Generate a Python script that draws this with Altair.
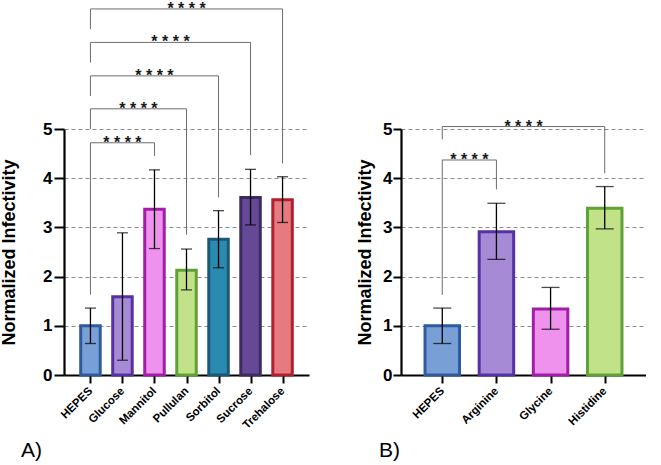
import json
import altair as alt
import pandas as pd

# ---------------- data ----------------
cats_a = ["HEPES", "Glucose", "Mannitol", "Pullulan", "Sorbitol", "Sucrose", "Trehalose"]
mean_a = [1.00, 1.59, 3.37, 2.13, 2.76, 3.61, 3.56]
low_a = [0.64, 0.30, 2.57, 1.73, 2.18, 3.05, 3.10]
high_a = [1.36, 2.89, 4.17, 2.56, 3.34, 4.18, 4.03]
fill_a = ["#789fd6", "#a68ad6", "#ee92ee", "#c2e28a", "#2a8bb0", "#654896", "#e57a80"]
stroke_a = ["#2d5b9e", "#5631a2", "#a21da8", "#5fa234", "#1b5878", "#3c2b62", "#b0202e"]

# brackets: target index, bracket level, left-leg bottom, right-leg bottom
br_a_target = [2, 3, 4, 5, 6]
br_a_level = [4.72, 5.41, 6.08, 6.76, 7.44]
br_a_left_bottom = [1.63, 5.00, 5.67, 6.35, 7.03]
br_a_right_bottom = [4.45, 2.85, 3.61, 4.47, 4.30]
br_a_label = ["* * * *"] * 5

cats_b = ["HEPES", "Arginine", "Glycine", "Histidine"]
mean_b = [1.00, 2.91, 1.34, 3.39]
low_b = [0.64, 2.35, 0.93, 2.97]
high_b = [1.36, 3.49, 1.78, 3.83]
fill_b = ["#789fd6", "#a68ad6", "#ee92ee", "#c2e28a"]
stroke_b = ["#2d5b9e", "#5631a2", "#a21da8", "#5fa234"]

br_b_target = [1, 3]
br_b_level = [4.37, 5.05]
br_b_left_bottom = [1.63, 4.79]
br_b_right_bottom = [3.77, 4.10]
br_b_label = ["* * * *"] * 2

FONT = "Liberation Sans"


def panel(cats, mean, low, high, fills, strokes, tgt, lvl, lb, rb, lab,
          bar_w, cap_w, title_pad, tick_size, label_pad, tag, tag_x):
    n = len(cats)
    df = pd.DataFrame({"idx": list(range(n)), "cat": cats, "mean": mean,
                       "low": low, "high": high, "fill": fills, "stroke": strokes})
    br = pd.DataFrame({"src": [0] * len(tgt), "tgt": tgt, "level": lvl,
                       "lb": lb, "rb": rb, "lab": lab})
    br["mid"] = (br["src"] + br["tgt"]) / 2.0

    xscale = alt.Scale(domain=[-0.67, n - 0.33], nice=False, zero=False)
    label_expr = json.dumps(cats) + "[datum.value]"
    xaxis = alt.Axis(values=list(range(n)), labelExpr=label_expr, title=None,
                     grid=False, labelAngle=-45, labelAlign="right",
                     labelBaseline="middle", labelFontSize=11.5, tickSize=8,
                     labelPadding=6, labelOverlap=False, labelBound=False)
    yscale = alt.Scale(domain=[0, 5], nice=False, zero=True)
    yaxis = alt.Axis(values=[0, 1, 2, 3, 4, 5], title="Normalized Infectivity",
                     grid=True, gridDash=[4, 3], gridColor="#8c8c8c", gridWidth=1.2,
                     tickSize=tick_size, labelPadding=label_pad, labelFontSize=17,
                     titleFontSize=18, titlePadding=title_pad)

    def X(f):
        return alt.X(f, type="quantitative", scale=xscale, axis=xaxis)

    def Y(f):
        return alt.Y(f, type="quantitative", scale=yscale, axis=yaxis)

    base = alt.Chart(df)
    bars = base.mark_bar(size=bar_w, strokeWidth=3).encode(
        x=X("idx"), y=Y("mean"),
        fill=alt.Fill("fill:N", scale=None), stroke=alt.Stroke("stroke:N", scale=None))
    err = base.mark_rule(color="black", strokeWidth=1.3).encode(
        x=X("idx"), y=Y("low"), y2="high")
    cap_lo = base.mark_tick(color="black", orient="horizontal", size=cap_w,
                            thickness=1.3).encode(x=X("idx"), y=Y("low"))
    cap_hi = base.mark_tick(color="black", orient="horizontal", size=cap_w,
                            thickness=1.3).encode(x=X("idx"), y=Y("high"))

    bb = alt.Chart(br)
    gray = "#6e6e6e"
    hline = bb.mark_rule(color=gray, strokeWidth=1).encode(
        x=X("src"), x2="tgt", y=Y("level"))
    lleg = bb.mark_rule(color=gray, strokeWidth=1).encode(
        x=X("src"), y=Y("level"), y2="lb")
    rleg = bb.mark_rule(color=gray, strokeWidth=1).encode(
        x=X("tgt"), y=Y("level"), y2="rb")
    stars = bb.mark_text(font=FONT, fontSize=16, fontWeight="bold", color="#1a1a1a",
                         baseline="alphabetic", dy=5).encode(
        x=X("mid"), y=Y("level"), text="lab:N")

    tagdf = pd.DataFrame({"t": [tag]})
    tagmark = alt.Chart(tagdf).mark_text(font=FONT, fontSize=21, align="left",
                                         baseline="alphabetic", color="black").encode(
        x=alt.value(tag_x), y=alt.value(328), text="t:N")

    return alt.layer(bars, err, cap_lo, cap_hi, hline, lleg, rleg, stars, tagmark).properties(
        width=245, height=246)


pa = panel(cats_a, mean_a, low_a, high_a, fill_a, stroke_a,
           br_a_target, br_a_level, br_a_left_bottom, br_a_right_bottom, br_a_label,
           bar_w=19.5, cap_w=11, title_pad=24, tick_size=10, label_pad=2,
           tag="A)", tag_x=-43)
pb = panel(cats_b, mean_b, low_b, high_b, fill_b, stroke_b,
           br_b_target, br_b_level, br_b_left_bottom, br_b_right_bottom, br_b_label,
           bar_w=34.5, cap_w=18, title_pad=8, tick_size=8, label_pad=1,
           tag="B)", tag_x=-22)

chart = alt.hconcat(pa, pb, spacing=47).properties(
    padding={"left": 0, "top": 0, "right": 0, "bottom": 0},
    background="white",
).configure_axis(
    domainColor="black", domainWidth=2.2, tickColor="black", tickWidth=2,
    labelFont=FONT, labelFontWeight="bold", labelColor="black",
    titleFont=FONT, titleFontWeight="bold", titleColor="black",
).configure_view(stroke=None)

chart.save("out.html", embed_options={"renderer": "svg", "actions": False})
